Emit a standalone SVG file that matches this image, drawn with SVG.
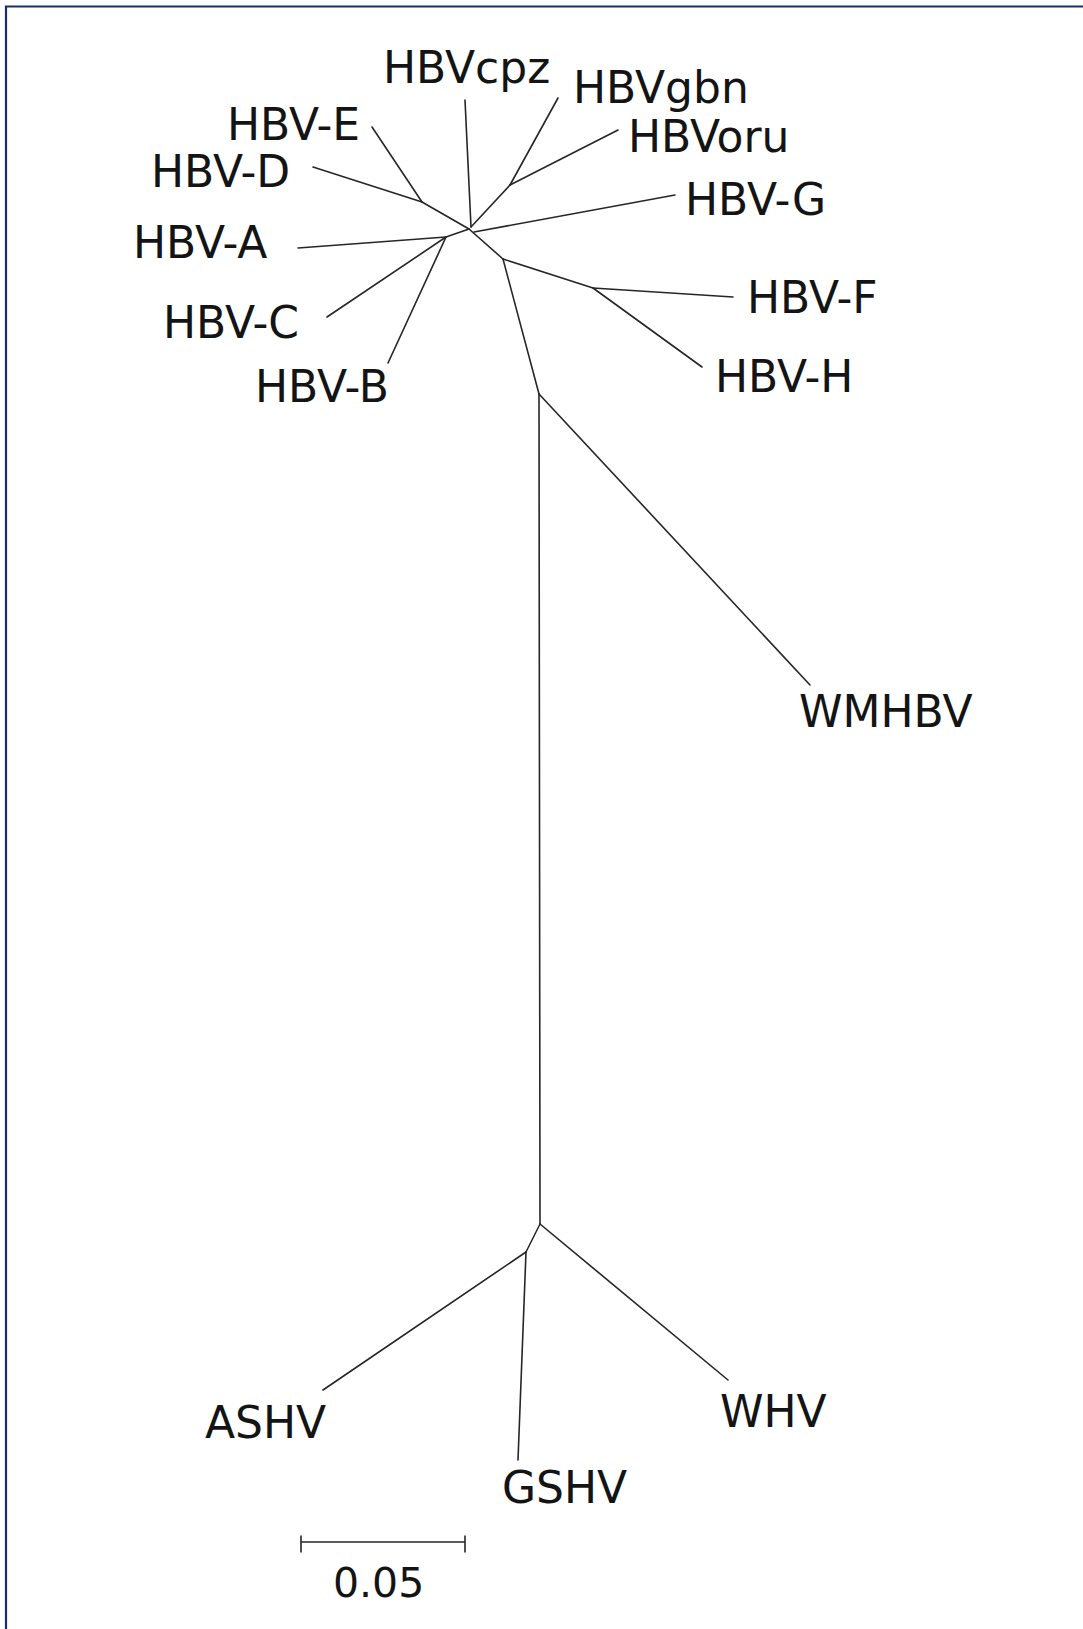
<svg xmlns="http://www.w3.org/2000/svg" width="1083" height="1629" viewBox="0 0 1083 1629">
<style>
.lbl{font-family:"DejaVu Sans",Verdana,sans-serif;font-size:44px;fill:#141414}
.br{stroke:#262626;stroke-width:1.6;fill:none;stroke-linecap:round}
</style>
<rect width="1083" height="1629" fill="#ffffff"/>
<path d="M6,1629 V6.5 H1083" fill="none" stroke="#17306b" stroke-width="2.2"/>
<g id="connectors" class="br">
<line x1="372" y1="127" x2="422" y2="202"/>
<line x1="313" y1="167" x2="422" y2="202"/>
<line x1="422" y1="202" x2="469" y2="229"/>
<line x1="465" y1="100" x2="471" y2="227"/>
<line x1="558" y1="98" x2="510" y2="185"/>
<line x1="618" y1="130" x2="510" y2="185"/>
<line x1="510" y1="185" x2="471" y2="227"/>
<line x1="474" y1="232" x2="675" y2="195"/>
<line x1="298" y1="248" x2="446" y2="237"/>
<line x1="327" y1="317" x2="446" y2="237"/>
<line x1="388" y1="363" x2="446" y2="237"/>
<line x1="446" y1="237" x2="469" y2="229"/>
<line x1="469" y1="229" x2="503" y2="259"/>
<line x1="503" y1="259" x2="593" y2="288"/>
<line x1="593" y1="288" x2="733" y2="297"/>
<line x1="593" y1="288" x2="702" y2="367"/>
<line x1="503" y1="259" x2="539" y2="394"/>
<line x1="539" y1="394" x2="810" y2="685"/>
<line x1="539" y1="394" x2="540" y2="1224"/>
<line x1="540" y1="1224" x2="526" y2="1252"/>
<line x1="526" y1="1252" x2="323" y2="1390"/>
<line x1="526" y1="1252" x2="518" y2="1460"/>
<line x1="540" y1="1224" x2="728" y2="1380"/>
</g>
<g id="HBVcpz"><text class="lbl" x="383" y="83">HBVcpz</text></g>
<g id="HBVgbn"><text class="lbl" x="573" y="103">HBVgbn</text></g>
<g id="HBVoru"><text class="lbl" x="628" y="152">HBVoru</text></g>
<g id="HBV-E"><text class="lbl" x="227" y="140">HBV-E</text></g>
<g id="HBV-D"><text class="lbl" x="151" y="187">HBV-D</text></g>
<g id="HBV-G"><text class="lbl" x="685" y="215">HBV-G</text></g>
<g id="HBV-A"><text class="lbl" x="133" y="258">HBV-A</text></g>
<g id="HBV-F"><text class="lbl" x="747" y="313">HBV-F</text></g>
<g id="HBV-C"><text class="lbl" x="163" y="338">HBV-C</text></g>
<g id="HBV-H"><text class="lbl" x="715" y="392">HBV-H</text></g>
<g id="HBV-B"><text class="lbl" x="255" y="402">HBV-B</text></g>
<g id="WMHBV"><text class="lbl" x="799" y="727">WMHBV</text></g>
<g id="ASHV"><text class="lbl" x="205" y="1438">ASHV</text></g>
<g id="WHV"><text class="lbl" x="720" y="1427">WHV</text></g>
<g id="GSHV"><text class="lbl" x="502" y="1503">GSHV</text></g>
<g id="scale">
<path class="br" d="M301,1542 H465 M301,1536 V1552 M465,1536 V1552"/>
<text class="lbl" x="333" y="1597" style="font-size:41px">0.05</text>
</g>
</svg>
